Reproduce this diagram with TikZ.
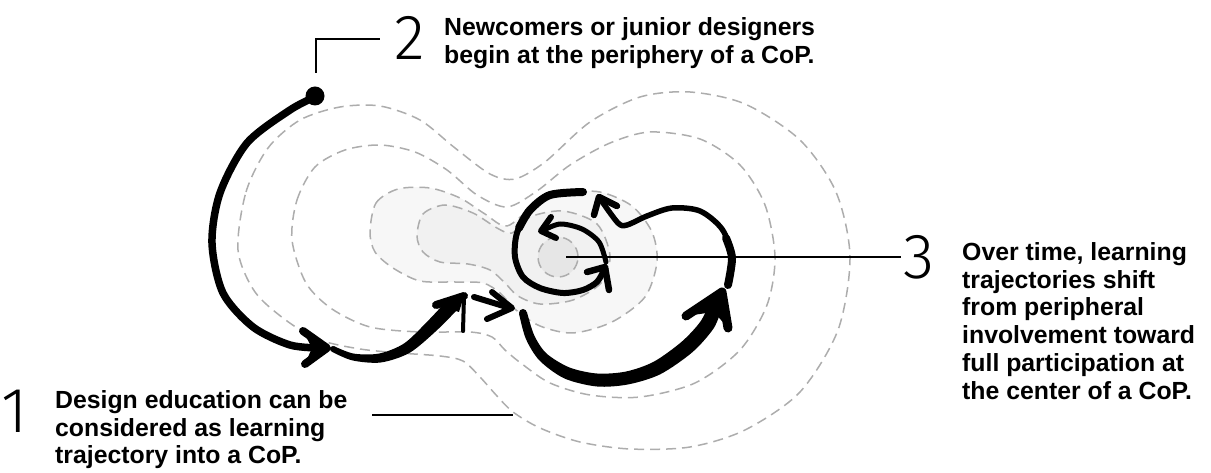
\documentclass[tikz,border=0pt]{standalone}
\usepackage{fontspec}
\setmainfont{Liberation Sans}
\newfontfamily\numfont{Fira Sans Light}
\definecolor{cgray}{HTML}{ADADAD}
\definecolor{fillA}{HTML}{F7F7F7}
\definecolor{fillB}{HTML}{F1F1F1}
\definecolor{fillC}{HTML}{E6E6E6}
\begin{document}
\begin{tikzpicture}[x=1bp,y=-1bp,
  contour/.style={draw=cgray, line width=1.5bp, dash pattern=on 10bp off 6bp},
  traj/.style={line width=#1, line cap=round, line join=round},
  lead/.style={line width=1.3bp, draw=black},
  txt/.style={anchor=north west, inner sep=0pt, align=left, font=\fontsize{24.9}{28}\selectfont\bfseries},
  num/.style={inner sep=0pt, font=\numfont\fontsize{64}{64}\selectfont}]
\useasboundingbox (0,0) rectangle (1211,473);

% shaded regions
\fill[fillA] plot[smooth cycle] coordinates {(370,232) (376,203) (398,189) (430,188) (460,198) (485,214) (507,226) (535,205) (565,193) (600,192) (632,206) (652,232) (657,262) (645,297) (612,322) (573,333) (540,326) (516,310) (500,293) (483,283) (455,282) (420,281) (393,268) (375,252)};
\fill[fillB] plot[smooth cycle] coordinates {(417,236) (423,214) (445,205) (473,213) (497,228) (512,233) (530,217) (563,211) (597,224) (610,256) (601,283) (573,300) (540,304) (518,296) (505,283) (490,270) (468,264) (440,262) (423,252)};
\fill[fillC] (558,257) circle (20bp);

% dashed contours
\draw[contour] plot[smooth cycle] coordinates {(238,250) (246,192) (268,148) (300,120) (340,107) (380,106) (420,120) (455,148) (490,174) (515,179) (545,162) (590,122) (640,97) (690,92) (745,104) (800,140) (836,192) (850,257) (838,330) (800,392) (745,430) (690,447) (630,449) (580,442) (540,428) (513,412) (497,396) (480,377) (463,361) (440,356) (400,353) (360,349) (320,340) (287,321) (255,292)};
\draw[contour] plot[smooth cycle] coordinates {(292,240) (297,200) (315,167) (345,150) (380,145) (415,152) (447,170) (477,195) (507,207) (537,191) (570,165) (610,143) (650,132) (700,139) (740,165) (765,205) (775,257) (767,305) (740,350) (695,383) (640,397) (590,395) (550,383) (522,364) (505,350) (492,337) (470,332) (420,332) (370,327) (332,309) (306,283)};
\draw[contour] plot[smooth cycle] coordinates {(370,232) (376,203) (398,189) (430,188) (460,198) (485,214) (507,226) (535,205) (565,193) (600,192) (632,206) (652,232) (657,262) (645,297) (612,322) (573,333) (540,326) (516,310) (500,293) (483,283) (455,282) (420,281) (393,268) (375,252)};
\draw[contour] plot[smooth cycle] coordinates {(417,236) (423,214) (445,205) (473,213) (497,228) (512,233) (530,217) (563,211) (597,224) (610,256) (601,283) (573,300) (540,304) (518,296) (505,283) (490,270) (468,264) (440,262) (423,252)};
\draw[contour] (558,257) circle (20bp);

% start dot
\node[circle, fill=black, inner sep=0pt, minimum size=19bp] (start) at (315,96) {};

% trajectory 1
\draw[traj=7.5bp] plot[smooth] coordinates {(315,97) (290,110) (247,143) (220,193) (212,243) (223,293) (253,327) (290,345) (321,348)};
\draw[traj=8bp] (303,331) -- (327,348) -- (305,364);
\fill (303,331) -- (327,348) -- (305,364) -- (312,348) -- cycle;

% trajectory 2 (tapered)
\fill plot[smooth] coordinates {(334.1,346.2) (353.7,353.6) (379.3,353.5) (404.3,343.3) (428.4,320.4) (449.5,297.7)} -- plot[smooth] coordinates {(460.5,306.3) (437.6,329.6) (409.8,352.7) (380.7,362.5) (352.3,360.4) (331.9,351.8)} -- cycle;
\fill (333,349) circle (3bp);
\draw[traj=8bp] (436,305) -- (464,296);
\fill (436,305) -- (464,296) -- (459,312) -- cycle;
\draw[traj=4bp] (464,296) -- (463,331);

% small arrow
\draw[traj=6bp] (474,297) -- (510,308);
\draw[traj=6bp] (492,292) -- (512,308) -- (487,319);

% trajectory 4 (tapered)
\fill plot[smooth] coordinates {(519.1,314) (525.8,338.7) (539.5,360.5) (564.5,378.5) (597,386.5) (628.3,384.4) (660.4,374.2) (692.5,352.1) (713.8,328.1) (722.2,306.9)} -- plot[smooth] coordinates {(709.8,303.1) (700.2,321.9) (681.5,341.9) (653.6,361.8) (625.7,371.6) (597,373.5) (569.5,367.5) (546.5,353.5) (534.2,335.3) (526.9,312)} -- cycle;
\fill (523,313) circle (4bp);
\draw[traj=9bp] (686,316) -- (722,292) -- (728,328);
\fill (686,316) -- (722,292) -- (728,328) -- (714,312) -- cycle;

% trajectory 5
\draw[traj=5.5bp] plot[smooth] coordinates {(728,284) (732,256) (722,229) (700,211) (672,208) (647,216) (627,225) (618,223) (601,200)};
\draw[traj=8bp] plot[smooth] coordinates {(728,285) (732,258) (726,238)};
\draw[traj=6.5bp] (594,215) -- (599,197) -- (617,206);

% trajectory 6 (outer spiral)
\draw[traj=6bp] plot[smooth] coordinates {(583,192) (550,195) (530,210) (517,233) (515,257) (523,277) (540,288) (563,293) (583,290) (597,282) (604,270)};
\draw[traj=8bp] plot[smooth] coordinates {(583,192) (550,195) (530,210) (519,228)};
\draw[traj=6.5bp] (587,272) -- (605,267) -- (609,290);

% trajectory 7 (inner spiral)
\draw[traj=5bp] plot[smooth] coordinates {(606,262) (599,242) (582,229) (560,224) (542,231)};
\draw[traj=6bp] (551,217) -- (541,231) -- (556,238);

% leader lines
\coordinate (l1a) at (372,415);
\coordinate (l1b) at (513,415);
\coordinate (l2a) at (316,73);
\coordinate (l2b) at (316,39);
\coordinate (l2c) at (380,39);
\coordinate (l3a) at (566,257);
\coordinate (l3b) at (901,257);
\draw[lead] (l1a) -- (l1b);
\draw[lead] (l2a) -- (l2b) -- (l2c);
\draw[lead] (l3a) -- (l3b);

% numbers
\node[num] (n1) at (15,411) {1};
\node[num] (n2) at (410,38) {2};
\node[num] (n3) at (919,257) {3};

% texts
\node[txt] (t1) at (55,390) {Design education can be\\considered as learning\\trajectory into a CoP.};
\node[txt] (t2) at (444,17) {Newcomers or junior designers\\begin at the periphery of a CoP.};
\node[txt] (t3) at (962,242) {Over time, learning\\trajectories shift\\from peripheral\\involvement toward\\full participation at\\the center of a CoP.};
\end{tikzpicture}
\end{document}
